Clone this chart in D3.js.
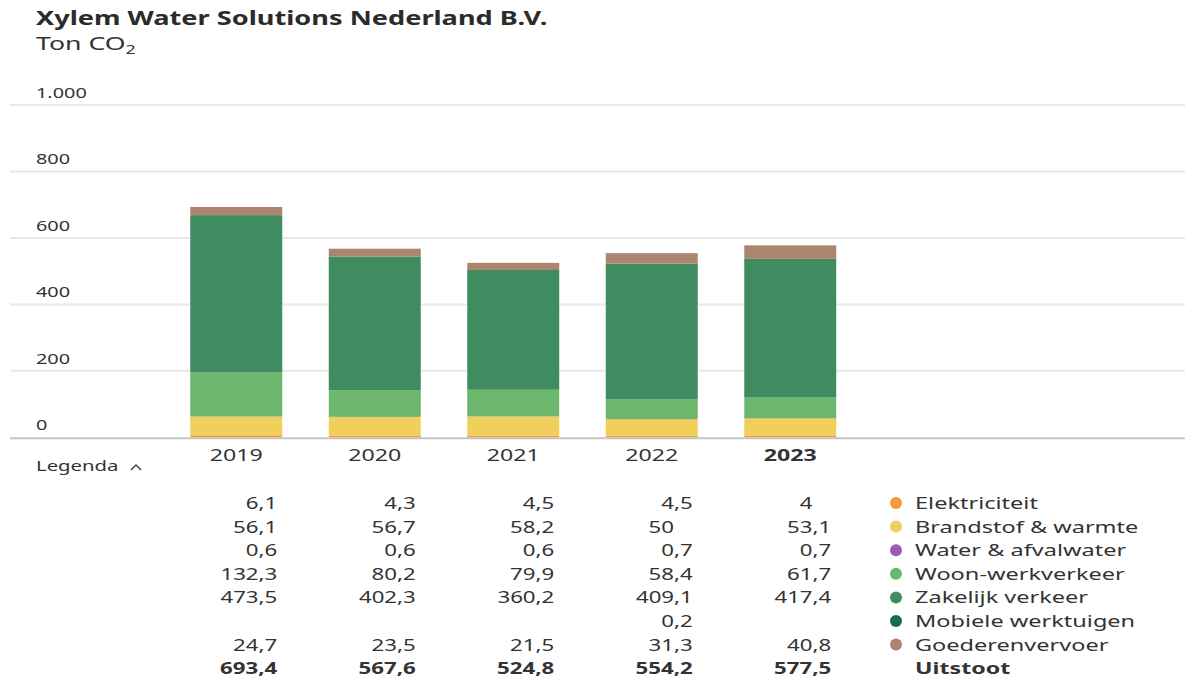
<!DOCTYPE html>
<html>
<head>
<meta charset="utf-8">
<title>Xylem Water Solutions Nederland B.V.</title>
<style>
  body { margin: 0; background: #fff; }
  svg text { font-family: "Noto Sans", "Open Sans", sans-serif; }
</style>
</head>
<body>
<div id="viz"></div>
<script src="https://cdnjs.cloudflare.com/ajax/libs/d3/7.8.5/d3.min.js"></script>
<script>
var width = 1185;
var height = 679;

// data
var years = ["2019", "2020", "2021", "2022", "2023"];
var seriesNames = ["Elektriciteit", "Brandstof & warmte", "Water & afvalwater", "Woon-werkverkeer",
                   "Zakelijk verkeer", "Mobiele werktuigen", "Goederenvervoer"];
var seriesColors = ["#f59a35", "#f0cf5a", "#9b5db5", "#6db66e", "#3e8c5f", "#1b6a56", "#ac856f"];
var elektriciteit = [6.1, 4.3, 4.5, 4.5, 4];
var brandstof = [56.1, 56.7, 58.2, 50, 53.1];
var water = [0.6, 0.6, 0.6, 0.7, 0.7];
var woonwerk = [132.3, 80.2, 79.9, 58.4, 61.7];
var zakelijk = [473.5, 402.3, 360.2, 409.1, 417.4];
var mobiele = [null, null, null, 0.2, null];
var goederen = [24.7, 23.5, 21.5, 31.3, 40.8];
var uitstoot = [693.4, 567.6, 524.8, 554.2, 577.5];
var yTicks = [0, 200, 400, 600, 800, 1000];

var seriesValues = [elektriciteit, brandstof, water, woonwerk, zakelijk, mobiele, goederen];

var nl = d3.formatLocale({ decimal: ",", thousands: ".", grouping: [3], currency: ["€", ""] });
var fmtTick = nl.format(",");
var fmtVal = nl.format(",.1f");

// the original type is much wider than what we have installed, stretch it
var SX = 1.45;
var SXNUM = 1.39;

function put(sel, x, y, sx) {
    return sel.attr("transform", "translate(" + x + "," + y + ") scale(" + (sx || SX) + ",1)");
}

var svg = d3.select("#viz")
    .append("svg")
    .attr("width", width)
    .attr("height", height);

// titles
put(svg.append("text"), 36, 25, 1.43)
    .attr("font-size", 19).attr("font-weight", "bold").attr("fill", "#2b2b2b")
    .text("Xylem Water Solutions Nederland B.V.");
var sub = put(svg.append("text"), 36, 50, 1.48)
    .attr("font-size", 18).attr("fill", "#333");
sub.append("tspan").text("Ton CO");
sub.append("tspan").attr("font-size", 12).attr("dy", 4).text("2");

var x = d3.scaleBand()
    .domain(years)
    .range([167, 859.5])
    .paddingInner(0.336)
    .paddingOuter(0.168);

var y = d3.scaleLinear()
    .domain([0, 1000])
    .range([437.3, 105]);

// grid
var grid = svg.append("g").attr("class", "grid");
grid.selectAll("line")
    .data(yTicks.filter(function (d) { return d > 0; }))
    .enter().append("line")
    .attr("x1", 10).attr("x2", width)
    .attr("y1", function (d) { return y(d); })
    .attr("y2", function (d) { return y(d); })
    .attr("stroke", "#e8e8e8").attr("stroke-width", 2);

grid.selectAll("text")
    .data(yTicks)
    .enter().append("text")
    .attr("transform", function (d) { return "translate(36," + (y(d) - 7) + ") scale(1.42,1)"; })
    .attr("font-size", 14).attr("fill", "#333")
    .text(function (d) { return fmtTick(d); });

// stacked bars
var rows = years.map(function (yr, i) {
    var r = { year: yr };
    seriesNames.forEach(function (s, k) { r[s] = seriesValues[k][i] || 0; });
    return r;
});
var stack = d3.stack().keys(seriesNames)(rows);

svg.append("g").selectAll("g")
    .data(stack)
    .enter().append("g")
    .attr("fill", function (d, k) { return seriesColors[k]; })
    .selectAll("rect")
    .data(function (d) { return d; })
    .enter().append("rect")
    .attr("x", function (d) { return x(d.data.year); })
    .attr("width", x.bandwidth())
    .attr("y", function (d) { return y(d[1]); })
    .attr("height", function (d) { return y(d[0]) - y(d[1]); });

// baseline
svg.append("line")
    .attr("x1", 10).attr("x2", width)
    .attr("y1", y(0) + 1).attr("y2", y(0) + 1)
    .attr("stroke", "#c4c4c4").attr("stroke-width", 2);

// year labels
var xAxis = svg.append("g")
    .attr("transform", "translate(0," + (y(0) + 24) + ")")
    .call(d3.axisBottom(x).tickSize(0).tickPadding(0));
xAxis.select(".domain").remove();
xAxis.selectAll("text")
    .attr("font-size", 16).attr("fill", "#333")
    .attr("font-family", "Noto Sans, sans-serif")
    .attr("font-weight", function (d) { return d === "2023" ? "bold" : "normal"; })
    .attr("y", 0).attr("dy", 0)
    .attr("transform", "scale(" + SX + ",1)");

// Legenda toggle
put(svg.append("text"), 36, 471)
    .attr("font-size", 14).attr("fill", "#333")
    .text("Legenda");
svg.append("path")
    .attr("d", "M131,470 L136,465 L141,470")
    .attr("fill", "none").attr("stroke", "#444").attr("stroke-width", 1.5);

// table
var rowY0 = 509;
var rowStep = 23.6;
var tableRows = seriesValues.concat([uitstoot]);
var colRight = years.map(function (yr) { return x(yr) + x.bandwidth() - 5; });

tableRows.forEach(function (vals, r) {
    var isTotal = r === tableRows.length - 1;
    vals.forEach(function (v, i) {
        if (v === null) return;
        var t = put(svg.append("text"), colRight[i], rowY0 + r * rowStep, SXNUM)
            .attr("text-anchor", "end")
            .attr("font-size", 16).attr("fill", "#333")
            .attr("font-weight", isTotal ? "bold" : "normal");
        if (Number.isInteger(v)) {
            t.append("tspan").text(String(v));
            t.append("tspan").attr("fill-opacity", 0).text(",0");
        } else {
            t.text(fmtVal(v));
        }
    });
});

// legend
var legend = svg.append("g");
seriesNames.forEach(function (s, k) {
    legend.append("circle")
        .attr("cx", 896).attr("cy", rowY0 + k * rowStep - 6)
        .attr("r", 6).attr("fill", seriesColors[k]);
    put(legend.append("text"), 915, rowY0 + k * rowStep, 1.47)
        .attr("font-size", 16).attr("fill", "#333")
        .text(s);
});
put(legend.append("text"), 915, rowY0 + seriesNames.length * rowStep, 1.45)
    .attr("font-size", 16).attr("font-weight", "bold").attr("fill", "#333")
    .text("Uitstoot");
</script>
</body>
</html>
